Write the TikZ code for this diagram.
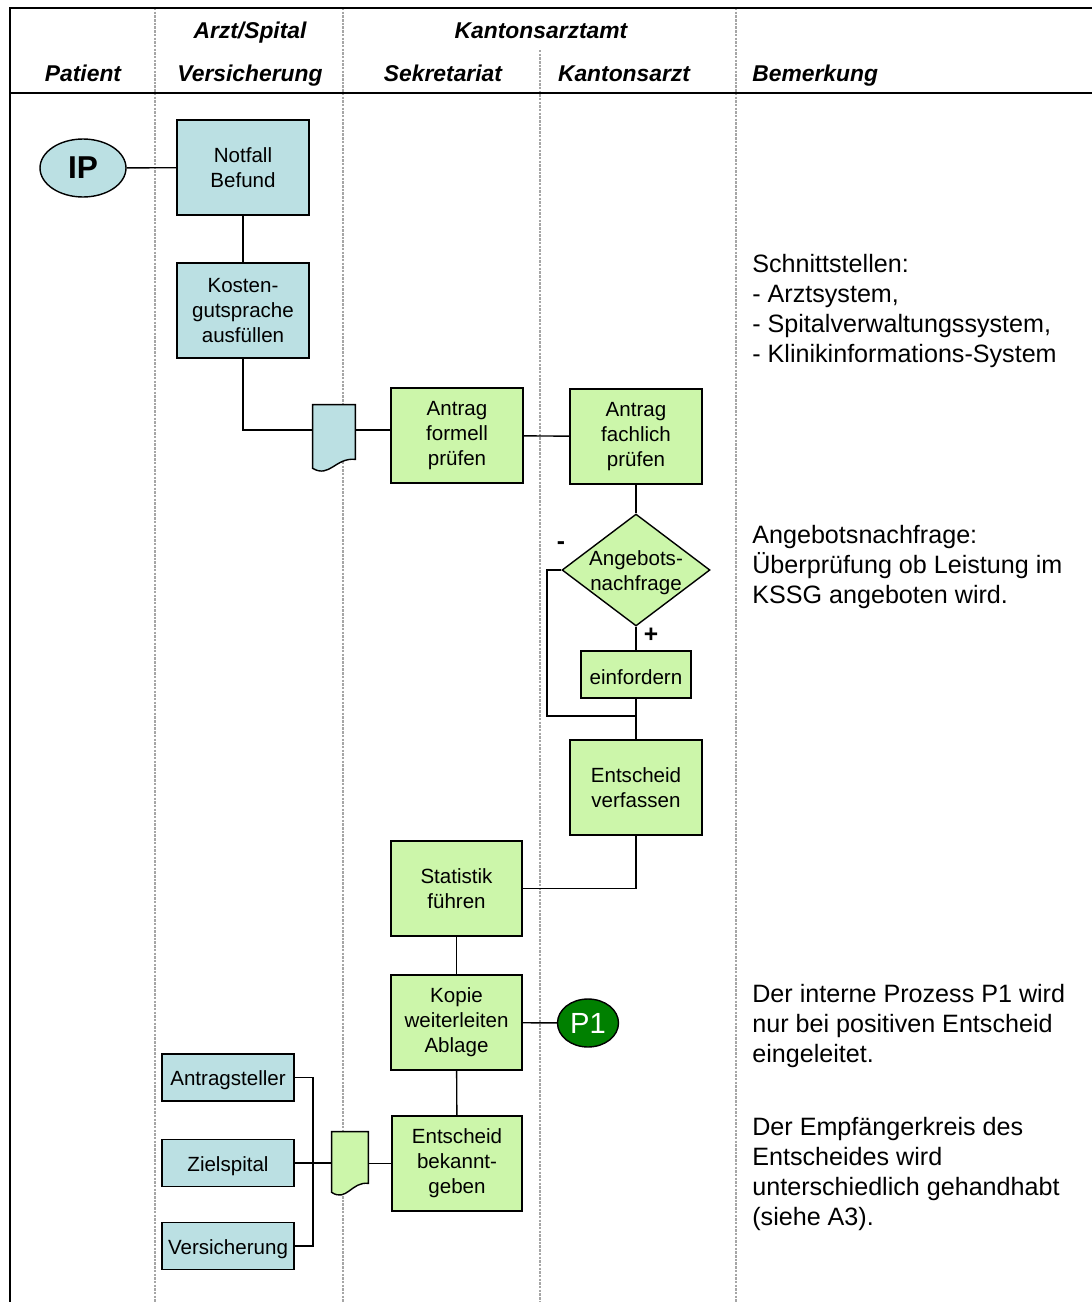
\documentclass[tikz,border=0pt]{standalone}
\usepackage{fontspec}
\setmainfont{Liberation Sans}
\usetikzlibrary{shapes.geometric}
\definecolor{lightblue}{RGB}{187,224,227}
\definecolor{lightgreen}{RGB}{204,246,170}
\definecolor{darkgreen}{RGB}{0,128,0}
\newcommand{\boxfont}{\fontsize{11.7}{14.2}\selectfont}
\newcommand{\headfont}{\bfseries\itshape\fontsize{13}{15}\selectfont}
\newcommand{\notefont}{\fontsize{14.3}{17}\selectfont}
\tikzset{
  box/.style={draw,line width=0.8pt,align=center,inner sep=0pt,minimum width=2.64cm,minimum height=1.9cm,font=\boxfont,execute at begin node=\rule{0pt}{1em}},
  bluebox/.style={box,fill=lightblue},
  greenbox/.style={box,fill=lightgreen},
  docnode/.style={inner sep=0pt},
  docline/.style={draw,line width=0.8pt},
  lane/.style={gray!70,line width=1.4pt,dash pattern=on 1.4pt off 0.7pt},
  head/.style={anchor=base,inner sep=0pt,font=\headfont},
  note/.style={anchor=north west,inner sep=0pt,align=left,font=\notefont},
  link/.style={line width=0.8pt},
  sign/.style={inner sep=0pt,font=\bfseries\fontsize{14}{16}\selectfont},
}
\begin{document}
\begin{tikzpicture}[x=0.02cm,y=-0.02cm]
\useasboundingbox (0,0) rectangle (1092,1302);
% frame and lanes
\foreach \x/\y in {155/8,343/8,540/50,736/8}{\draw[lane] (\x,\y)--(\x,1302);}
\draw[line width=1.2pt] (10,1302)--(10,8)--(1092,8);
\draw[line width=1.2pt] (10,93)--(1092,93);
% headings
\node[head] (arzt) at (250,38.5) {Arzt/Spital};
\node[head] (amt) at (541,38.5) {Kantonsarztamt};
\node[head] (patient) at (83,81.5) {Patient};
\node[head] (vers) at (250,81.5) {Versicherung};
\node[head] (sekr) at (443,81.5) {Sekretariat};
\node[head] (karzt) at (624,81.5) {Kantonsarzt};
\node[head,anchor=base west] (bem) at (752,81.5) {Bemerkung};
% steps
\node[ellipse,draw,line width=0.8pt,fill=lightblue,minimum width=1.72cm,minimum height=1.16cm,inner sep=0pt,font=\bfseries\fontsize{18}{20}\selectfont] (ip) at (83,168) {IP};
\node[bluebox] (notfall) at (243,167.5) {Notfall\\Befund};
\node[bluebox] (kosten) at (243,310.5) {Kosten-\\gutsprache\\ausfüllen};
\node[docnode,minimum width=0.84cm,minimum height=1.34cm] (d1) at (334,438.5) {};
\path[docline,fill=lightblue] (d1.north west)--(d1.north east)--([yshift=0.26cm]d1.south east) .. controls ([xshift=-0.4cm,yshift=0.3cm]d1.south east) and ([xshift=0.34cm,yshift=-0.12cm]d1.south west) .. ([yshift=0.08cm]d1.south west)--cycle;
\node[greenbox] (formell) at (457,435.5) {Antrag\\formell\\prüfen};
\node[greenbox] (fachlich) at (636,436.5) {Antrag\\fachlich\\prüfen};
\node[diamond,draw,line width=0.8pt,fill=lightgreen,inner sep=0pt,minimum width=2.96cm,minimum height=2.24cm,font=\boxfont] (frage) at (636,570) {\makebox[0pt]{\begin{tabular}{@{}c@{}}\rule{0pt}{1.1em}Angebots-\\nachfrage\end{tabular}}};
\node[greenbox,minimum width=2.2cm,minimum height=0.94cm] (einf) at (636,674.5) {einfordern};
\node[greenbox] (verf) at (636,787.5) {Entscheid\\verfassen};
\node[greenbox,minimum width=2.62cm] (stat) at (456.5,888.5) {Statistik\\führen};
\node[greenbox,minimum width=2.62cm] (kopie) at (456.5,1022.5) {Kopie\\weiterleiten\\Ablage};
\node[ellipse,draw,line width=0.8pt,fill=darkgreen,text=white,minimum width=1.22cm,minimum height=0.96cm,inner sep=0pt,font=\fontsize{16.6}{18}\selectfont] (p1) at (588,1023) {P1};
\node[greenbox,minimum width=2.6cm] (bekannt) at (457,1163.5) {Entscheid\\bekannt-\\geben};
\node[docnode,minimum width=0.72cm,minimum height=1.28cm] (d2) at (350,1164) {};
\path[docline,fill=lightgreen] (d2.north west)--(d2.north east)--([yshift=0.26cm]d2.south east) .. controls ([xshift=-0.34cm,yshift=0.3cm]d2.south east) and ([xshift=0.3cm,yshift=-0.12cm]d2.south west) .. ([yshift=0.08cm]d2.south west)--cycle;
\node[bluebox,minimum height=0.94cm] (antr) at (228,1077.5) {Antragsteller};
\node[bluebox,minimum height=0.94cm] (ziel) at (228,1163) {Zielspital};
\node[bluebox,minimum height=0.94cm] (versich) at (228,1246) {Versicherung};
% connectors
\draw[link] (ip)--(notfall);
\draw[link] (notfall)--(kosten);
\draw[link] (kosten.south) |- ([yshift=0.17cm]d1.west);
\draw[link] ([yshift=0.17cm]d1.east)--([yshift=0.17cm]d1.east -| formell.west);
\draw[link] (formell)--(fachlich);
\draw[link] (fachlich)--(frage);
\draw[link] (frage)--(einf);
\coordinate (loop) at (547,716);
\draw[link] (frage.west) -| (loop)--(loop -| verf.north);
\draw[link] (einf)--(verf);
\draw[link] (verf.south) |- (stat.east);
\draw[link] (stat)--(kopie);
\draw[link] (kopie)--(p1);
\draw[link] (kopie)--(bekannt);
\draw[link] (bekannt.west)--(bekannt.west -| d2.east);
\coordinate (fork) at (313,1163);
\draw[link] (antr.east) -| (fork) |- (versich.east);
\draw[link] (ziel.east)--(ziel.east -| d2.west);
\node[sign] (minus) at (561,546) {-};
\node[sign] (plus) at (651,635) {+};
% remarks
\node[note] (n1) at (752,254) {Schnittstellen:\\- Arztsystem,\\- Spitalverwaltungssystem,\\- Klinikinformations-System};
\node[note] (n2) at (752,525) {Angebotsnachfrage:\\Überprüfung ob Leistung im\\KSSG angeboten wird.};
\node[note] (n3) at (752,984) {Der interne Prozess P1 wird\\nur bei positiven Entscheid\\eingeleitet.};
\node[note] (n4) at (752,1117) {Der Empfängerkreis des\\Entscheides wird\\unterschiedlich gehandhabt\\(siehe A3).};
\end{tikzpicture}
\end{document}
